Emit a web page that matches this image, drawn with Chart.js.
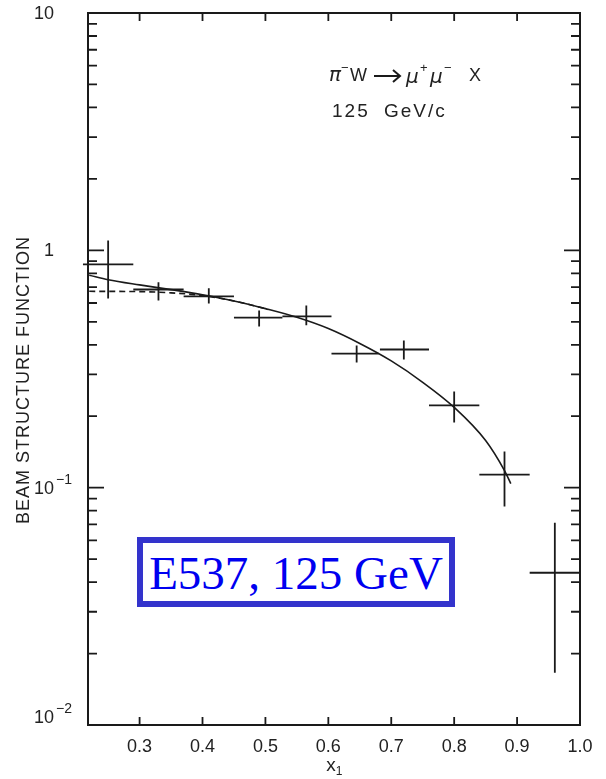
<!DOCTYPE html>
<html>
<head>
<meta charset="utf-8">
<script src="https://cdn.jsdelivr.net/npm/chart.js@4/dist/chart.umd.min.js"></script>
<style>
  html, body { margin: 0; padding: 0; background: #fff; }
  #wrap { position: relative; width: 606px; height: 779px; }
  #tag {
    position: absolute; left: 137px; top: 537px; width: 306px; height: 58px;
    border: 6px solid #3333cc; background: #fff; color: #0000f0;
    font: 47px "Liberation Serif", "Times New Roman", serif;
    text-align: center; line-height: 60px; white-space: nowrap;
  }
</style>
</head>
<body>
<div id="wrap">
  <canvas id="c" width="606" height="779"></canvas>
  <div id="tag">E537, 125 GeV</div>
</div>
<script>
"use strict";

const INK = "#1a1a1a";
const TXT = "#222";

// measured points (x1 bin centre, structure function) with bin edges and error ends
const xVals = [0.25, 0.33, 0.41, 0.49, 0.565, 0.645, 0.72, 0.80, 0.88, 0.96];
const xLo   = [0.21, 0.29, 0.37, 0.45, 0.527, 0.605, 0.682, 0.76, 0.84, 0.92];
const xHi   = [0.29, 0.37, 0.45, 0.527, 0.605, 0.68, 0.76, 0.84, 0.92, 1.0];
const yVals = [0.873, 0.684, 0.640, 0.521, 0.527, 0.367, 0.382, 0.222, 0.1135, 0.0438];
const yLo   = [0.627, 0.615, 0.597, 0.478, 0.483, 0.337, 0.347, 0.188, 0.0832, 0.0166];
const yHi   = [1.10, 0.733, 0.692, 0.558, 0.586, 0.397, 0.417, 0.254, 0.142, 0.0711];

// solid fit curve
const fitX = [0.22, 0.25, 0.30, 0.35, 0.40, 0.45, 0.50, 0.55, 0.60, 0.65, 0.70, 0.75, 0.80, 0.85, 0.88, 0.89];
const fitY = [0.785, 0.752, 0.715, 0.683, 0.650, 0.612, 0.568, 0.522, 0.468, 0.405, 0.342, 0.278, 0.218, 0.158, 0.118, 0.104];

// dashed curve (flattens at small x1)
const dashX = [0.22, 0.30, 0.35, 0.40, 0.45, 0.50];
const dashY = [0.672, 0.670, 0.662, 0.645, 0.612, 0.568];

// axes
const xTicks = [0.3, 0.4, 0.5, 0.6, 0.7, 0.8, 0.9, 1.0];
const yDecades = [10, 1, 0.1, 0.01];
const yBase = ["10", "1", "10", "10"];
const yExp = ["", "", "\u22121", "\u22122"];

const SANS = "'Liberation Sans', Arial, sans-serif";

const frame = {
  id: "frame",
  afterDatasetsDraw(chart) {
    const { ctx, chartArea: a, scales: { x, y } } = chart;
    ctx.save();
    ctx.strokeStyle = INK;
    ctx.lineCap = "butt";

    // error crosses
    ctx.lineWidth = 1.8;
    for (let i = 0; i < xVals.length; i++) {
      const px = x.getPixelForValue(xVals[i]);
      const py = y.getPixelForValue(yVals[i]);
      ctx.beginPath();
      ctx.moveTo(x.getPixelForValue(xLo[i]), py);
      ctx.lineTo(x.getPixelForValue(xHi[i]), py);
      ctx.moveTo(px, y.getPixelForValue(yLo[i]));
      ctx.lineTo(px, y.getPixelForValue(yHi[i]));
      ctx.stroke();
    }

    // frame
    ctx.lineWidth = 2;
    ctx.strokeRect(a.left, a.top, a.right - a.left, a.bottom - a.top);

    // inward ticks
    ctx.lineWidth = 1.8;
    ctx.beginPath();
    xTicks.slice(0, -1).forEach((v) => {
      const px = x.getPixelForValue(v);
      ctx.moveTo(px, a.bottom); ctx.lineTo(px, a.bottom - 8);
      ctx.moveTo(px, a.top); ctx.lineTo(px, a.top + 8);
    });
    yDecades.forEach((d) => {
      for (let m = 1; m <= 9; m++) {
        const v = d * m;
        if (v > 10 || (d === 10 && m > 1)) continue;
        const py = y.getPixelForValue(v);
        const len = m === 1 ? 16 : 9;
        ctx.moveTo(a.left, py); ctx.lineTo(a.left + len, py);
        ctx.moveTo(a.right, py); ctx.lineTo(a.right - len, py);
      }
    });
    ctx.stroke();

    // y labels 10^n
    ctx.fillStyle = TXT;
    ctx.textBaseline = "middle";
    yDecades.forEach((d, i) => {
      const py = Math.min(y.getPixelForValue(d) + 1, a.bottom - 7);
      ctx.font = "18px " + SANS;
      ctx.textAlign = "right";
      ctx.fillText(yBase[i], 54, py);
      if (yExp[i]) {
        ctx.font = "14px " + SANS;
        ctx.textAlign = "left";
        ctx.fillText(yExp[i], 56, py - 9);
      }
    });

    // axis titles
    ctx.font = "19px " + SANS;
    ctx.textAlign = "center";
    ctx.fillText("x", (a.left + a.right) / 2 - 3, 766);
    ctx.font = "12px " + SANS;
    ctx.fillText("1", (a.left + a.right) / 2 + 5, 772);

    ctx.save();
    ctx.translate(24, 380);
    ctx.rotate(-Math.PI / 2);
    ctx.font = "18px " + SANS;
    ctx.letterSpacing = "1px";
    ctx.fillText("BEAM STRUCTURE FUNCTION", 0, 0);
    ctx.restore();

    // reaction text
    ctx.textAlign = "left";
    ctx.letterSpacing = "1px";
    ctx.font = "italic 20px 'DejaVu Sans', sans-serif";
    ctx.fillText("\u03C0", 329, 76);
    ctx.fillText("\u03BC", 406, 78);
    ctx.fillText("\u03BC", 430, 78);
    ctx.font = "18px " + SANS;
    ctx.fillText("W", 350, 76);
    ctx.fillText("X", 469, 76);
    ctx.font = "13px " + SANS;
    ctx.fillText("\u2212", 341, 68);
    ctx.fillText("+", 420, 68);
    ctx.fillText("\u2212", 444, 68);
    ctx.lineWidth = 2;
    ctx.beginPath();
    ctx.moveTo(374, 76); ctx.lineTo(400, 76);
    ctx.moveTo(393, 70); ctx.lineTo(400, 76); ctx.lineTo(393, 82);
    ctx.stroke();
    ctx.font = "19px " + SANS;
    ctx.letterSpacing = "2px";
    ctx.fillText("125", 332, 112);
    ctx.fillText("GeV/c", 384, 112);
    ctx.restore();
  },
};

new Chart(document.getElementById("c"), {
  type: "scatter",
  data: {
    datasets: [
      {
        label: "fit",
        data: fitX.map((v, i) => ({ x: v, y: fitY[i] })),
        showLine: true, borderColor: INK, borderWidth: 1.6,
        pointRadius: 0, cubicInterpolationMode: "monotone",
      },
      {
        label: "fit (flat)",
        data: dashX.map((v, i) => ({ x: v, y: dashY[i] })),
        showLine: true, borderColor: INK, borderWidth: 1.6, borderDash: [6, 4],
        pointRadius: 0, cubicInterpolationMode: "monotone",
      },
      {
        label: "data",
        data: xVals.map((v, i) => ({ x: v, y: yVals[i] })),
        pointRadius: 0,
      },
    ],
  },
  options: {
    responsive: false,
    animation: false,
    devicePixelRatio: 1,
    layout: { padding: { top: 13, right: 26, left: 0, bottom: 0 } },
    plugins: { legend: { display: false }, tooltip: { enabled: false } },
    scales: {
      x: {
        type: "linear", min: 0.218, max: 1.0,
        grid: { display: false, drawTicks: false },
        border: { display: false },
        afterBuildTicks: (s) => { s.ticks = xTicks.map((v) => ({ value: v })); },
        afterFit: (s) => { s.height = 54; },
        ticks: {
          autoSkip: false, maxRotation: 0, padding: 11, color: TXT,
          font: { family: SANS, size: 18 },
          callback: (v) => Number(v).toFixed(1),
        },
      },
      y: {
        type: "logarithmic", min: 0.01, max: 10,
        grid: { display: false, drawTicks: false },
        border: { display: false },
        afterFit: (s) => { s.width = 88; },
        ticks: { display: false },
      },
    },
  },
  plugins: [frame],
});
</script>
</body>
</html>
